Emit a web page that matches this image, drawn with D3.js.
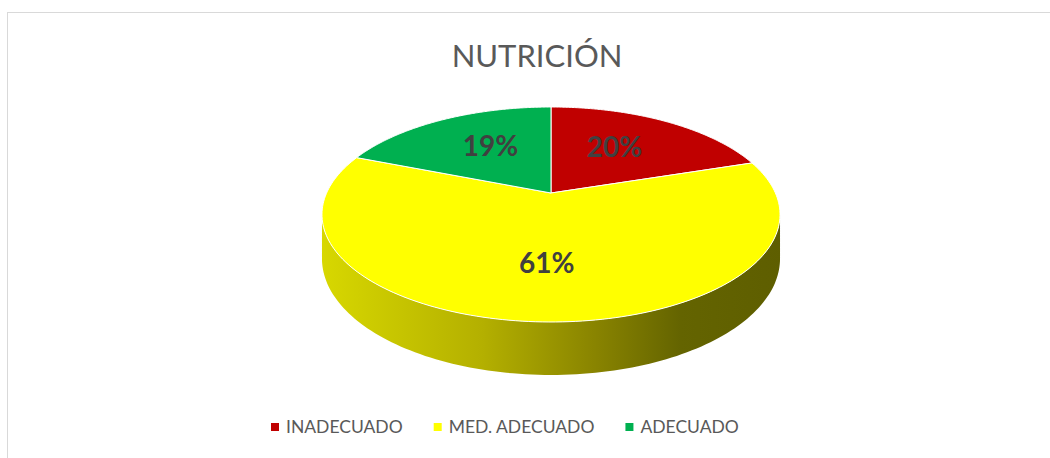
<!DOCTYPE html>
<html>
<head>
<meta charset="utf-8">
<script src="https://cdnjs.cloudflare.com/ajax/libs/d3/7.8.5/d3.min.js"></script>
<style>
  html, body { margin: 0; padding: 0; background: #fff; }
  svg { display: block; }
</style>
</head>
<body>
<svg id="chart" width="1050" height="458"></svg>
<script>
var TITLE = 'NUTRICIÓN';
var CATEGORIES = ['INADECUADO', 'MED. ADECUADO', 'ADECUADO'];
var VALUES = [20, 61, 19];
var COLORS = ['#c00000', '#ffff00', '#00b050'];

var SVG = d3.select('#chart');
var W = 1050, H = 458;

// ----- 3D projection of the pie disk ----------------------------------------
// disk point (X, Z) on unit circle, Y = height (0 top, negative down)
var cx = 551, cy = 193;
var ax = 224.4, bz = 103.2, persp = 0.2, depth = 42.4;

function project(X, Z, Y) {
  var k = 1 / (1 - persp * Z);
  return [cx + ax * X * k, cy + (bz * Z - depth * Y) * k];
}
function onDisk(angle, r, Y) {
  return project(r * Math.sin(angle), -r * Math.cos(angle), Y);
}

function arcPoints(a0, a1, Y, n) {
  var pts = [];
  for (var i = 0; i <= n; i++) {
    var a = a0 + (a1 - a0) * i / n;
    pts.push(onDisk(a, 1, Y));
  }
  return pts;
}

// border
SVG.append('rect')
    .attr('x', 7.5).attr('y', 12.5)
    .attr('width', W).attr('height', H)
    .attr('fill', 'none')
    .attr('stroke', '#d9d9d9')
    .attr('stroke-width', 1);

// title
SVG.append('text')
    .attr('x', 537).attr('y', 67)
    .attr('text-anchor', 'middle')
    .attr('font-family', 'Lato, "Open Sans", sans-serif')
    .attr('font-size', 31)
    .attr('fill', '#595959')
    .text(TITLE);

var data = CATEGORIES.map((c, i) => ({cat: c, value: VALUES[i], color: COLORS[i]}));
var arcs = d3.pie().sort(null).value((d) => d.value).startAngle(0).endAngle(2 * Math.PI)(data);

// ----- side wall (front half, visible between silhouette points) ------------
var defs = SVG.append('defs');
var grad = defs.append('linearGradient')
    .attr('id', 'side-grad')
    .attr('gradientUnits', 'userSpaceOnUse')
    .attr('x1', cx - ax * 1.03).attr('x2', cx + ax * 1.03)
    .attr('y1', 0).attr('y2', 0);
[[0, '#d8d800'], [0.35, '#b4b000'], [0.6, '#888300'], [0.78, '#646400'], [1, '#5e5e00']]
  .forEach((s) => grad.append('stop').attr('offset', s[0]).attr('stop-color', s[1]));

// silhouette angles where Z = persp
var phi = Math.asin(persp);
var aRight = Math.PI / 2 + phi;
var aLeft = 3 * Math.PI / 2 - phi;

arcs.forEach(function(d) {
  var a0 = Math.max(d.startAngle, aRight);
  var a1 = Math.min(d.endAngle, aLeft);
  if (a1 <= a0) return;
  var top = arcPoints(a0, a1, 0, 120);
  var bottom = arcPoints(a0, a1, -1, 120).reverse();
  var pts = top.concat(bottom);
  SVG.append('path')
      .attr('d', 'M' + pts.map((p) => p.join(',')).join('L') + 'Z')
      .attr('fill', 'url(#side-grad)')
      .attr('stroke', 'none');
});

// ----- top slices -----------------------------------------------------------
var topG = SVG.append('g');
arcs.forEach(function(d) {
  var pts = [project(0, 0, 0)].concat(arcPoints(d.startAngle, d.endAngle, 0, 160));
  topG.append('path')
      .attr('d', 'M' + pts.map((p) => p.join(',')).join('L') + 'Z')
      .attr('fill', d.data.color)
      .attr('stroke', '#ffffff')
      .attr('stroke-width', 1)
      .attr('stroke-linejoin', 'round');
});

// data labels
arcs.forEach(function(d) {
  var mid = (d.startAngle + d.endAngle) / 2;
  var p = onDisk(mid, 0.6, 0);
  // Excel pulls the side labels a bit toward the centre line
  var px = cx + (p[0] - cx) * 0.88;
  SVG.append('text')
      .attr('x', px).attr('y', p[1])
      .attr('dy', '0.36em')
      .attr('text-anchor', 'middle')
      .attr('font-family', 'Lato, "Open Sans", sans-serif')
      .attr('font-weight', 'bold')
      .attr('font-size', 28)
      .attr('fill', '#404040')
      .text(Math.round(d.value / d3.sum(VALUES) * 100) + '%');
});

// ----- legend ---------------------------------------------------------------
var legend = SVG.append('g').attr('transform', 'translate(271,427)');
var lx = 0;
data.forEach(function(d) {
  legend.append('rect')
      .attr('x', lx).attr('y', -4)
      .attr('width', 8).attr('height', 8)
      .attr('fill', d.color);
  var t = legend.append('text')
      .attr('x', lx + 15).attr('y', 0)
      .attr('dy', '0.36em')
      .attr('font-family', 'Lato, "Open Sans", sans-serif')
      .attr('font-size', 17.5)
      .attr('fill', '#595959')
      .text(d.cat);
  lx += 15 + t.node().getComputedTextLength() + 31;
});
</script>
</body>
</html>
